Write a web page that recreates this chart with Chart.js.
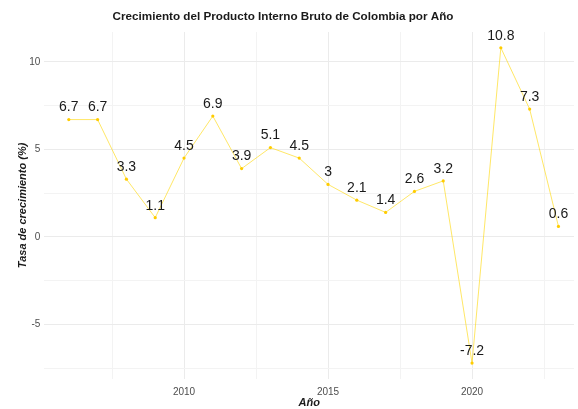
<!DOCTYPE html>
<html>
<head>
<meta charset="utf-8">
<script src="https://cdn.jsdelivr.net/npm/chart.js@4.4.0/dist/chart.umd.min.js"></script>
<style>
  html, body { margin: 0; padding: 0; background: #ffffff; }
  #wrap { width: 578px; height: 409px; }
</style>
</head>
<body>
<div id="wrap"><canvas id="pib" width="578" height="409"></canvas></div>
<script>
    // Datos: crecimiento del PIB de Colombia (%)
    const anios = [2006, 2007, 2008, 2009, 2010, 2011, 2012, 2013, 2014, 2015, 2016, 2017, 2018, 2019, 2020, 2021, 2022, 2023];
    const crecimiento = [6.7, 6.7, 3.3, 1.1, 4.5, 6.9, 3.9, 5.1, 4.5, 3, 2.1, 1.4, 2.6, 3.2, -7.2, 10.8, 7.3, 0.6];
    const ticksX = [2007.5, 2010, 2012.5, 2015, 2017.5, 2020, 2022.5];
    const ticksY = [-7.5, -5, -2.5, 0, 2.5, 5, 7.5, 10];

    const fuente = '"Liberation Sans", Arial, sans-serif';

    // Etiquetas de valor sobre cada punto + título
    const etiquetas = {
        id: 'etiquetas',
        afterDatasetsDraw(chart) {
            const ctx = chart.ctx;
            const meta = chart.getDatasetMeta(0);
            ctx.save();
            ctx.font = '14px ' + fuente;
            ctx.fillStyle = '#1a1a1a';
            ctx.textAlign = 'center';
            ctx.textBaseline = 'middle';
            meta.data.forEach((p, i) => {
                ctx.fillText(String(crecimiento[i]), p.x, p.y - 12);
            });
            ctx.restore();
        },
        afterDraw(chart) {
            const ctx = chart.ctx;
            ctx.save();
            ctx.font = 'bold 11.7px ' + fuente;
            ctx.fillStyle = '#1a1a1a';
            ctx.textAlign = 'center';
            ctx.textBaseline = 'middle';
            ctx.fillText('Crecimiento del Producto Interno Bruto de Colombia por Año', 283, 17);
            ctx.restore();
        }
    };

    const esMayor = v => Math.abs(v % 5) < 1e-9;

    new Chart(document.getElementById('pib'), {
        type: 'line',
        data: {
            datasets: [{
                data: anios.map((a, i) => ({ x: a, y: crecimiento[i] })),
                borderColor: 'rgba(255, 215, 0, 0.6)',
                borderWidth: 1,
                pointRadius: 1.6,
                pointBackgroundColor: '#FFCC00',
                pointBorderWidth: 0,
                tension: 0
            }]
        },
        options: {
            responsive: false,
            animation: false,
            layout: { padding: { top: 32, left: 16, right: 0, bottom: -1 } },
            plugins: {
                legend: { display: false },
                tooltip: { enabled: false }
            },
            scales: {
                x: {
                    type: 'linear',
                    min: 2005.15,
                    max: 2023.54,
                    afterBuildTicks: s => { s.ticks = ticksX.map(v => ({ value: v })); },
                    grid: {
                        color: ctx => (ctx.tick && esMayor(ctx.tick.value)) ? '#ebebeb' : '#f3f3f3',
                        lineWidth: 1,
                        drawTicks: false
                    },
                    border: { display: false },
                    ticks: {
                        autoSkip: false,
                        maxRotation: 0,
                        padding: 7,
                        color: '#4d4d4d',
                        font: { family: fuente, size: 10 },
                        callback: v => esMayor(v) ? String(v) : ''
                    },
                    title: {
                        display: true,
                        text: 'Año',
                        color: '#1a1a1a',
                        font: { family: fuente, size: 11, style: 'italic', weight: 'bold' },
                        padding: { top: -8, bottom: 0 }
                    }
                },
                y: {
                    min: -8.1,
                    max: 11.7,
                    afterBuildTicks: s => { s.ticks = ticksY.map(v => ({ value: v })); },
                    grid: {
                        color: ctx => (ctx.tick && esMayor(ctx.tick.value)) ? '#ebebeb' : '#f3f3f3',
                        lineWidth: 1,
                        drawTicks: false
                    },
                    border: { display: false },
                    ticks: {
                        autoSkip: false,
                        padding: 4,
                        color: '#4d4d4d',
                        font: { family: fuente, size: 10 },
                        callback: v => esMayor(v) ? String(v) : ''
                    },
                    title: {
                        display: true,
                        text: 'Tasa de crecimiento (%)',
                        color: '#1a1a1a',
                        font: { family: fuente, size: 11, style: 'italic', weight: 'bold' },
                        padding: { top: 0, bottom: -4 }
                    }
                }
            }
        },
        plugins: [etiquetas]
    });
</script>
</body>
</html>
